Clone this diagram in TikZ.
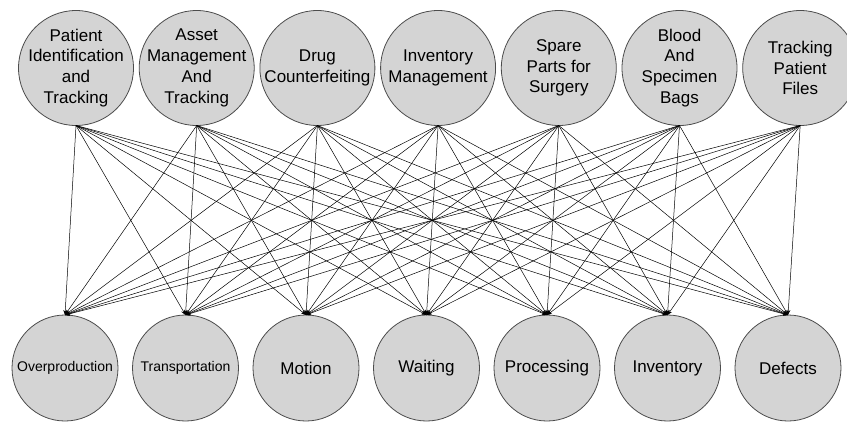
\documentclass[tikz,border=0pt]{standalone}
\usepackage{fontspec}
\setsansfont{Liberation Sans}
\usetikzlibrary{positioning,arrows.meta}
\definecolor{nodec}{RGB}{212,212,212}
\tikzset{
  topc/.style={circle, draw=black!70, line width=0.8pt, fill=nodec, minimum size=115pt, inner sep=0pt, outer sep=0pt},
  botc/.style={topc, minimum size=106pt},
  txt/.style={align=center, inner sep=0pt, font=\sffamily\fontsize{17}{20.8}\selectfont},
  smalltxt/.style={txt, font=\sffamily\fontsize{14}{17}\selectfont},
  link/.style={-{Stealth[length=5pt, width=4pt]}, line width=0.5pt, black}
}

\begin{document}
\begin{tikzpicture}[x=1pt, y=-1pt]
  \useasboundingbox (0,0) rectangle (847,421);

  % applications (top row)
  \node[topc, label={[txt]center:Patient\\Identification\\and\\Tracking}] (app1) at (76,68) {};
  \node[topc, right=5.7pt of app1, label={[txt]center:Asset\\Management\\And\\Tracking}] (app2) {};
  \node[topc, right=5.7pt of app2, label={[txt]center:Drug\\Counterfeiting}] (app3) {};
  \node[topc, right=5.7pt of app3, label={[txt]center:Inventory\\Management}] (app4) {};
  \node[topc, right=5.7pt of app4, label={[txt]center:Spare\\Parts for\\Surgery}] (app5) {};
  \node[topc, right=5.7pt of app5, label={[txt]center:Blood\\And\\Specimen\\Bags}] (app6) {};
  \node[topc, right=5.7pt of app6, label={[txt]center:Tracking\\Patient\\Files}] (app7) {};

  % wastes (bottom row)
  \node[botc, label={[smalltxt]center:Overproduction}] (waste1) at (65,368) {};
  \node[botc, right=14.5pt of waste1, label={[smalltxt]center:Transportation}] (waste2) {};
  \node[botc, right=14.5pt of waste2, label={[txt]center:Motion}] (waste3) {};
  \node[botc, right=14.5pt of waste3, label={[txt]center:Waiting}] (waste4) {};
  \node[botc, right=14.5pt of waste4, label={[txt]center:Processing}] (waste5) {};
  \node[botc, right=14.5pt of waste5, label={[txt]center:Inventory}] (waste6) {};
  \node[botc, right=14.5pt of waste6, label={[txt]center:Defects}] (waste7) {};

  % every application to every waste
  \foreach \i in {1,...,7}
    \foreach \j in {1,...,7}
      \draw[link] (app\i.south) -- (waste\j.north);
\end{tikzpicture}
\end{document}
